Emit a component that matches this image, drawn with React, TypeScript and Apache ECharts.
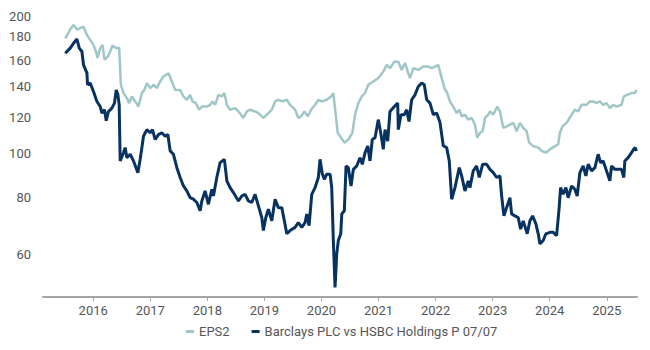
import React, { useEffect, useRef } from "react";
import * as echarts from "echarts";

const seriesNames = ["EPS2", "Barclays PLC vs HSBC Holdings P 07/07"];
const yearTicks = [2016, 2017, 2018, 2019, 2020, 2021, 2022, 2023, 2024, 2025];
const yTicks = [60, 80, 100, 120, 140, 160, 180, 200];

// [decimal year, value]
const eps2: [number, number][] = [
  [2015.51, 178.7], [2015.597, 186.8], [2015.655, 191.1], [2015.715, 186.8], [2015.772, 188.2],
  [2015.83, 189.5], [2015.89, 181.8], [2015.947, 177.3], [2016.005, 172.9], [2016.047, 167.2],
  [2016.075, 161.8], [2016.123, 170.1], [2016.163, 172.9], [2016.198, 160.5], [2016.257, 163.1],
  [2016.298, 167.2], [2016.338, 172.3], [2016.398, 170.1], [2016.455, 170.1], [2016.485, 141.4],
  [2016.531, 135.6], [2016.59, 132.2], [2016.63, 128.9], [2016.678, 133.3], [2016.736, 130.0],
  [2016.793, 126.7], [2016.853, 135.6], [2016.898, 137.8], [2016.94, 142.6], [2016.998, 139.1],
  [2017.056, 141.4], [2017.116, 139.1], [2017.173, 143.8], [2017.231, 147.4], [2017.319, 149.9],
  [2017.378, 143.8], [2017.436, 137.8], [2017.524, 137.8], [2017.581, 133.3], [2017.641, 131.1],
  [2017.699, 134.4], [2017.739, 130.0], [2017.799, 128.9], [2017.856, 124.7], [2017.904, 126.7],
  [2017.991, 126.7], [2018.049, 127.8], [2018.089, 130.0], [2018.137, 127.8], [2018.194, 134.4],
  [2018.254, 133.3], [2018.299, 135.6], [2018.342, 127.8], [2018.399, 124.7], [2018.487, 125.7],
  [2018.545, 123.6], [2018.592, 121.6], [2018.632, 119.6], [2018.692, 123.6], [2018.75, 124.7],
  [2018.837, 123.6], [2018.895, 122.6], [2018.982, 119.6], [2019.07, 122.6], [2019.13, 124.7],
  [2019.187, 130.0], [2019.245, 131.1], [2019.315, 130.0], [2019.392, 131.1], [2019.45, 127.8],
  [2019.538, 124.7], [2019.595, 119.6], [2019.643, 120.6], [2019.7, 123.6], [2019.76, 120.6],
  [2019.818, 124.7], [2019.888, 127.8], [2019.946, 131.1], [2020.005, 130.0], [2020.093, 131.1],
  [2020.168, 133.3], [2020.208, 135.6], [2020.25, 121.6], [2020.285, 111.0], [2020.343, 108.3],
  [2020.401, 105.6], [2020.471, 107.3], [2020.541, 111.0], [2020.588, 121.6], [2020.646, 128.9],
  [2020.706, 133.3], [2020.764, 135.6], [2020.821, 141.4], [2020.909, 143.8], [2020.996, 146.2],
  [2021.084, 151.1], [2021.144, 156.3], [2021.201, 153.7], [2021.277, 158.9], [2021.347, 158.9],
  [2021.406, 152.4], [2021.464, 157.8], [2021.552, 146.2], [2021.609, 153.7], [2021.697, 152.4],
  [2021.785, 155.0], [2021.872, 155.0], [2021.932, 153.7], [2021.989, 155.0], [2022.047, 156.3],
  [2022.107, 146.2], [2022.165, 137.8], [2022.194, 136.7], [2022.252, 130.0], [2022.31, 126.7],
  [2022.369, 122.6], [2022.415, 124.7], [2022.457, 120.6], [2022.515, 121.6], [2022.573, 118.6],
  [2022.632, 119.6], [2022.69, 115.7], [2022.73, 108.3], [2022.778, 111.0], [2022.825, 111.9],
  [2022.865, 119.6], [2022.923, 121.6], [2022.953, 123.6], [2023.011, 121.6], [2023.081, 126.7],
  [2023.128, 123.6], [2023.186, 113.8], [2023.245, 114.7], [2023.303, 115.7], [2023.361, 116.7],
  [2023.42, 111.9], [2023.478, 116.7], [2023.536, 113.8], [2023.595, 111.9], [2023.641, 105.6],
  [2023.711, 103.8], [2023.799, 103.0], [2023.858, 101.3], [2023.933, 100.4], [2024.004, 102.1],
  [2024.091, 103.8], [2024.149, 104.7], [2024.179, 111.0], [2024.226, 114.7], [2024.296, 116.7],
  [2024.366, 120.6], [2024.441, 124.7], [2024.499, 123.6], [2024.559, 127.8], [2024.646, 127.8],
  [2024.704, 130.0], [2024.762, 130.0], [2024.821, 128.9], [2024.879, 130.0], [2024.937, 127.8],
  [2024.996, 128.9], [2025.054, 125.7], [2025.112, 127.8], [2025.172, 126.7], [2025.259, 127.8],
  [2025.299, 133.3], [2025.357, 134.4], [2025.434, 135.6], [2025.492, 135.6], [2025.52, 137.8],
];

const barclays: [number, number][] = [
  [2015.51, 165.7], [2015.597, 170.1], [2015.655, 174.3], [2015.715, 178.1], [2015.755, 170.1],
  [2015.802, 167.2], [2015.83, 156.3], [2015.89, 149.9], [2015.9, 141.4], [2015.947, 142.6],
  [2016.005, 136.7], [2016.065, 130.0], [2016.123, 126.7], [2016.152, 122.6], [2016.198, 124.7],
  [2016.228, 118.0], [2016.268, 123.6], [2016.327, 125.7], [2016.373, 128.9], [2016.403, 137.8],
  [2016.433, 134.4], [2016.455, 127.8], [2016.473, 96.3], [2016.531, 100.4], [2016.56, 103.0],
  [2016.59, 97.9], [2016.648, 99.6], [2016.706, 96.3], [2016.783, 90.8], [2016.823, 97.1],
  [2016.853, 103.0], [2016.881, 109.1], [2016.94, 112.8], [2016.998, 111.0], [2017.039, 112.8],
  [2017.086, 107.3], [2017.144, 110.0], [2017.203, 111.0], [2017.261, 109.1], [2017.308, 110.0],
  [2017.349, 101.3], [2017.406, 99.6], [2017.466, 93.1], [2017.524, 88.6], [2017.581, 84.9],
  [2017.641, 82.8], [2017.699, 80.0], [2017.757, 79.4], [2017.816, 78.1], [2017.874, 74.9],
  [2017.904, 78.7], [2017.961, 82.8], [2018.019, 77.4], [2018.079, 83.5], [2018.107, 80.7],
  [2018.166, 88.6], [2018.224, 95.5], [2018.299, 97.1], [2018.342, 87.1], [2018.399, 84.2],
  [2018.457, 82.1], [2018.545, 78.7], [2018.604, 80.7], [2018.662, 81.4], [2018.72, 78.7],
  [2018.779, 78.1], [2018.837, 81.4], [2018.895, 76.8], [2018.954, 72.4], [2018.982, 67.8],
  [2019.025, 72.4], [2019.07, 75.5], [2019.13, 71.2], [2019.187, 79.4], [2019.245, 76.1],
  [2019.305, 76.1], [2019.35, 71.2], [2019.392, 66.7], [2019.45, 67.8], [2019.538, 68.9],
  [2019.595, 70.6], [2019.655, 68.9], [2019.713, 70.6], [2019.743, 73.7], [2019.783, 69.5],
  [2019.83, 81.4], [2019.888, 84.2], [2019.946, 88.6], [2019.975, 97.1], [2020.016, 90.1],
  [2020.051, 87.8], [2020.093, 90.1], [2020.151, 90.1], [2020.18, 84.2], [2020.208, 64.5],
  [2020.238, 50.9], [2020.268, 60.3], [2020.296, 64.5], [2020.338, 66.7], [2020.356, 73.7],
  [2020.401, 74.9], [2020.431, 93.9], [2020.471, 93.1], [2020.518, 84.9], [2020.559, 92.3],
  [2020.618, 93.9], [2020.676, 97.9], [2020.716, 94.7], [2020.764, 100.4], [2020.811, 103.8],
  [2020.851, 96.3], [2020.891, 107.3], [2020.939, 108.3], [2020.996, 118.6], [2021.039, 111.0],
  [2021.084, 102.1], [2021.114, 112.8], [2021.161, 106.4], [2021.201, 123.6], [2021.277, 126.7],
  [2021.336, 128.9], [2021.347, 112.8], [2021.394, 121.6], [2021.452, 121.6], [2021.494, 124.7],
  [2021.534, 117.5], [2021.581, 131.1], [2021.639, 134.4], [2021.697, 140.2], [2021.757, 142.6],
  [2021.802, 141.4], [2021.844, 131.1], [2021.902, 128.9], [2021.96, 121.6], [2022.019, 122.6],
  [2022.077, 117.0], [2022.135, 104.0], [2022.194, 103.0], [2022.24, 96.3], [2022.282, 79.4],
  [2022.34, 84.2], [2022.415, 93.1], [2022.457, 89.3], [2022.515, 82.8], [2022.573, 87.1],
  [2022.602, 84.2], [2022.66, 91.6], [2022.72, 93.9], [2022.765, 88.6], [2022.825, 94.7],
  [2022.895, 94.7], [2022.953, 92.3], [2023.011, 90.8], [2023.07, 88.6], [2023.128, 89.3],
  [2023.158, 80.7], [2023.198, 73.0], [2023.245, 76.1], [2023.303, 80.0], [2023.333, 73.7],
  [2023.391, 73.0], [2023.448, 72.4], [2023.49, 68.3], [2023.536, 71.2], [2023.606, 66.7],
  [2023.653, 71.2], [2023.7, 73.0], [2023.758, 70.1], [2023.799, 66.7], [2023.828, 63.4],
  [2023.886, 64.5], [2023.933, 66.7], [2024.004, 67.2], [2024.061, 67.2], [2024.121, 66.1],
  [2024.166, 76.1], [2024.191, 84.2], [2024.236, 81.4], [2024.284, 84.2], [2024.324, 80.0],
  [2024.384, 84.9], [2024.441, 83.5], [2024.482, 80.7], [2024.529, 90.8], [2024.587, 93.9],
  [2024.634, 89.3], [2024.674, 94.7], [2024.734, 91.6], [2024.792, 93.1], [2024.849, 99.6],
  [2024.891, 95.5], [2024.937, 96.3], [2024.996, 91.6], [2025.054, 87.1], [2025.084, 93.9],
  [2025.142, 92.3], [2025.197, 92.3], [2025.259, 92.3], [2025.299, 88.6], [2025.317, 96.3],
  [2025.375, 97.9], [2025.434, 100.4], [2025.47, 102.1], [2025.5, 103.0], [2025.52, 101.3],
];

const colors = ["#a0c7c8", "#083260"];
const FONT = "Roboto, 'Noto Sans', sans-serif";

export default function App() {
  const ref = useRef<HTMLDivElement>(null);
  useEffect(() => {
    document.body.style.margin = "0";
    if (!ref.current) return;
    const chart = echarts.init(ref.current, undefined, { renderer: "svg" });
    chart.setOption({
      animation: false,
      grid: { left: 43, right: 13, top: 16, bottom: 53 },
      legend: {
        left: 181,
        top: 320,
        itemWidth: 8,
        itemHeight: 3,
        itemGap: 22,
        icon: "rect",
        textStyle: { color: "#555", fontSize: 13, fontFamily: FONT },
        data: seriesNames,
      },
      xAxis: {
        type: "value",
        min: 2015.12,
        max: 2025.53,
        splitLine: { show: false },
        axisLine: { show: true, lineStyle: { color: "#a6a6a6", width: 2 } },
        axisTick: {
          show: true,
          length: 4,
          lineStyle: { color: "#a6a6a6", width: 1 },
          customValues: yearTicks,
        },
        axisLabel: {
          customValues: yearTicks,
          formatter: (v: number) => String(Math.round(v)),
          color: "#555",
          fontSize: 13,
          fontFamily: FONT,
          margin: 7,
        },
      },
      yAxis: {
        type: "log",
        logBase: 10,
        min: 48.5,
        max: 200,
        splitLine: { show: false },
        axisLine: { show: false },
        axisTick: { show: false },
        axisLabel: {
          customValues: yTicks,
          formatter: (v: number) => String(Math.round(v)),
          color: "#555",
          fontSize: 13,
          fontFamily: FONT,
          margin: 12,
        },
      },
      series: [
        {
          name: seriesNames[0],
          type: "line",
          data: eps2,
          showSymbol: false,
          lineStyle: { color: colors[0], width: 2.5 },
          itemStyle: { color: colors[0] },
        },
        {
          name: seriesNames[1],
          type: "line",
          data: barclays,
          showSymbol: false,
          lineStyle: { color: colors[1], width: 3 },
          itemStyle: { color: colors[1] },
        },
      ],
    });
    return () => chart.dispose();
  }, []);
  return <div ref={ref} style={{ width: 650, height: 350 }} />;
}
